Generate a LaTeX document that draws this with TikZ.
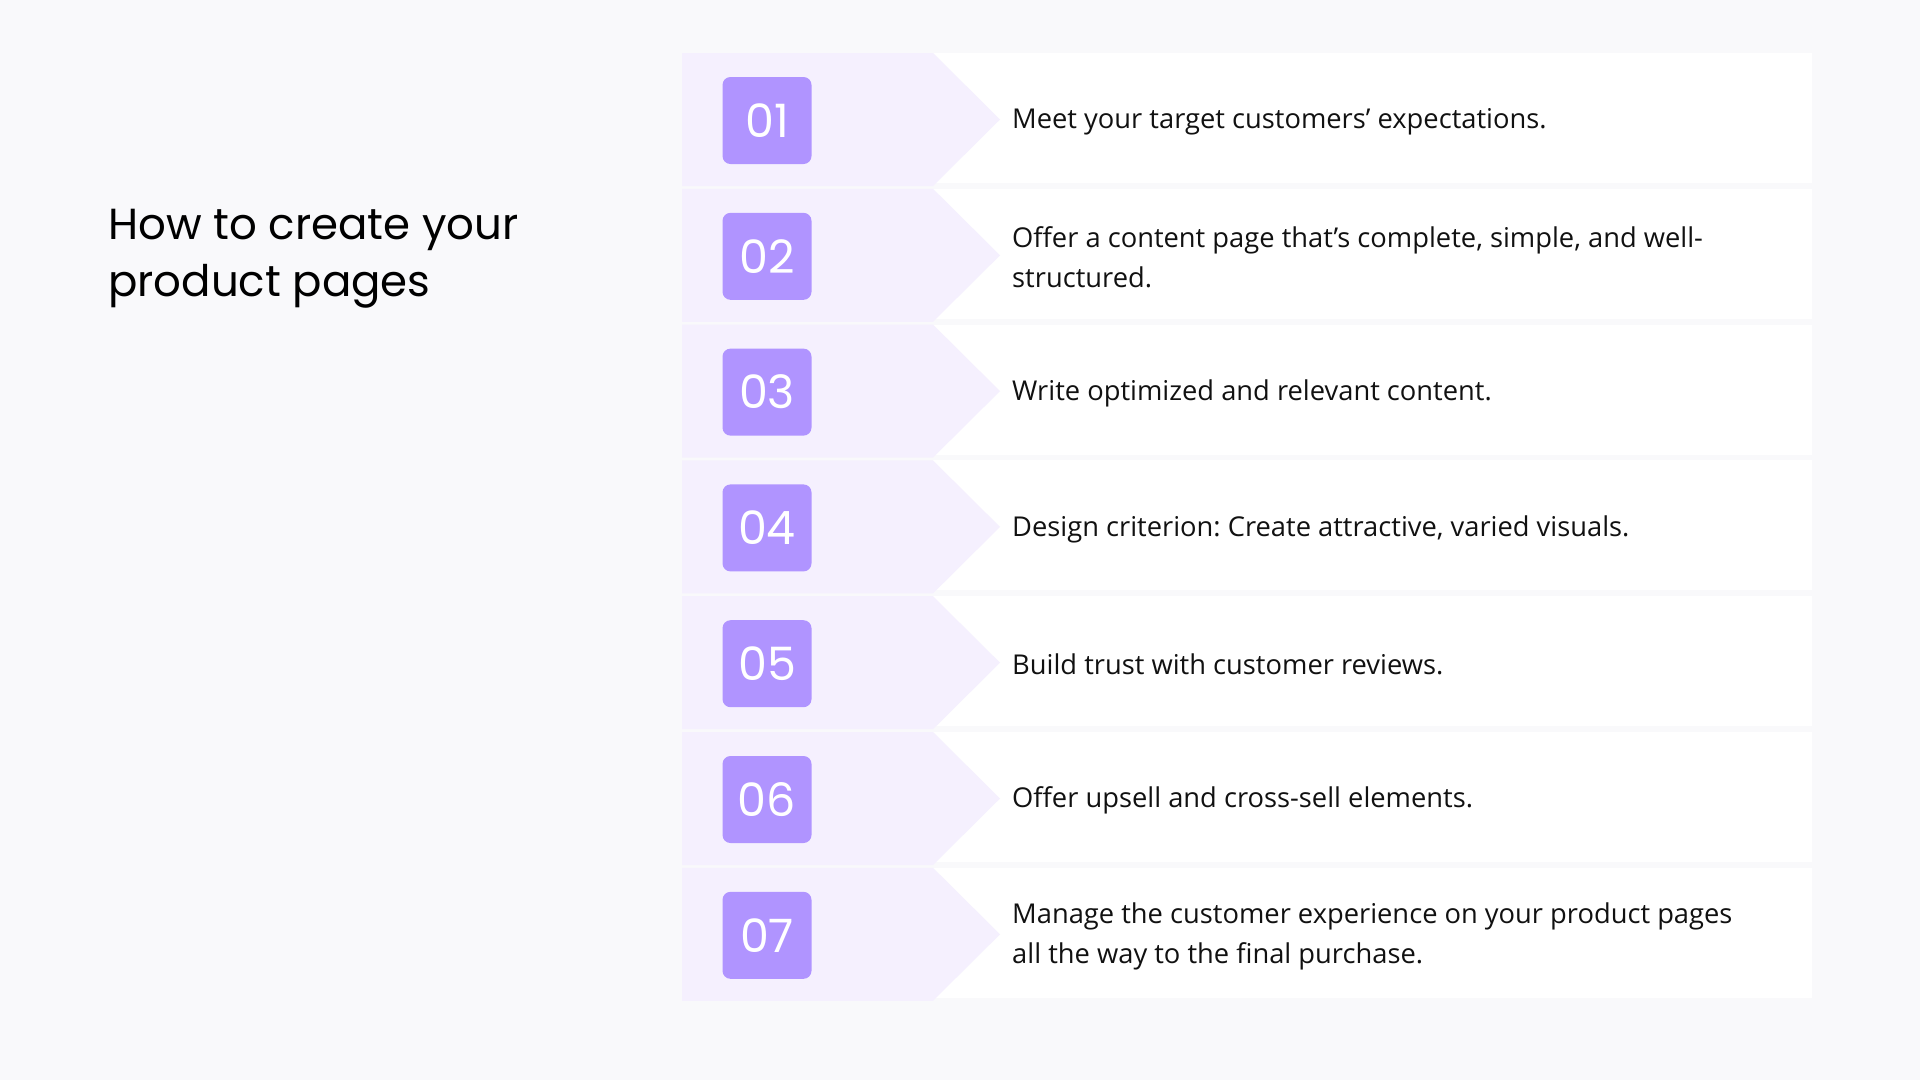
\documentclass[tikz,border=0pt]{standalone}
\usepackage{fontspec}
\setmainfont{Open Sans}
\newfontfamily\titlefont{Poppins}
\newfontfamily\numfont{Poppins}
\definecolor{bgc}{HTML}{F9F9FB}
\definecolor{lilac}{HTML}{F5F0FE}
\definecolor{badge}{HTML}{B094FF}
\definecolor{ink}{HTML}{111111}
\frenchspacing
\begin{document}
\begin{tikzpicture}[x=1pt,y=-1pt,
  numbox/.style={fill=badge,rounded corners=8pt,minimum width=89pt,minimum height=87pt,inner sep=0pt,
    text=white,font=\numfont\fontsize{46}{46}\selectfont},
  itemtext/.style={anchor=west,align=left,inner sep=0pt,text=ink,font=\fontsize{27.3}{39.5}\selectfont},
  titletext/.style={anchor=north west,align=left,inner sep=0pt,text=black,font=\titlefont\fontsize{43.5}{57}\selectfont}]
\fill[bgc] (0,0) rectangle (1920,1080);
\useasboundingbox (0,0) rectangle (1920,1080);
\node[titletext] (title) at (108,209) {How to create your\\product pages};
\foreach \i/\txt in {1/{Meet your target customers’ expectations.},
  2/{Offer a content page that’s complete, simple, and well-\\structured.},
  3/{Write optimized and relevant content.},
  4/{Design criterion: Create attractive, varied visuals.},
  5/{Build trust with customer reviews.},
  6/{Offer upsell and cross-sell elements.},
  7/{Manage the customer experience on your product pages\\all the way to the final purchase.}}{
  \pgfmathsetmacro{\top}{53+135.8*(\i-1)}
  \pgfmathsetmacro{\mid}{\top+66.5}
  \fill[white] (933,\top) rectangle (1812,\top+130);
  \fill[lilac] (682,\top) -- (933,\top) -- (1000,\mid) -- (933,\top+133) -- (682,\top+133) -- cycle;
  \node[numbox] (n\i) at (767,\mid+1) {0\i};
  \node[itemtext] (t\i) at (1012,\mid+2) {\txt};
}
\end{tikzpicture}
\end{document}
